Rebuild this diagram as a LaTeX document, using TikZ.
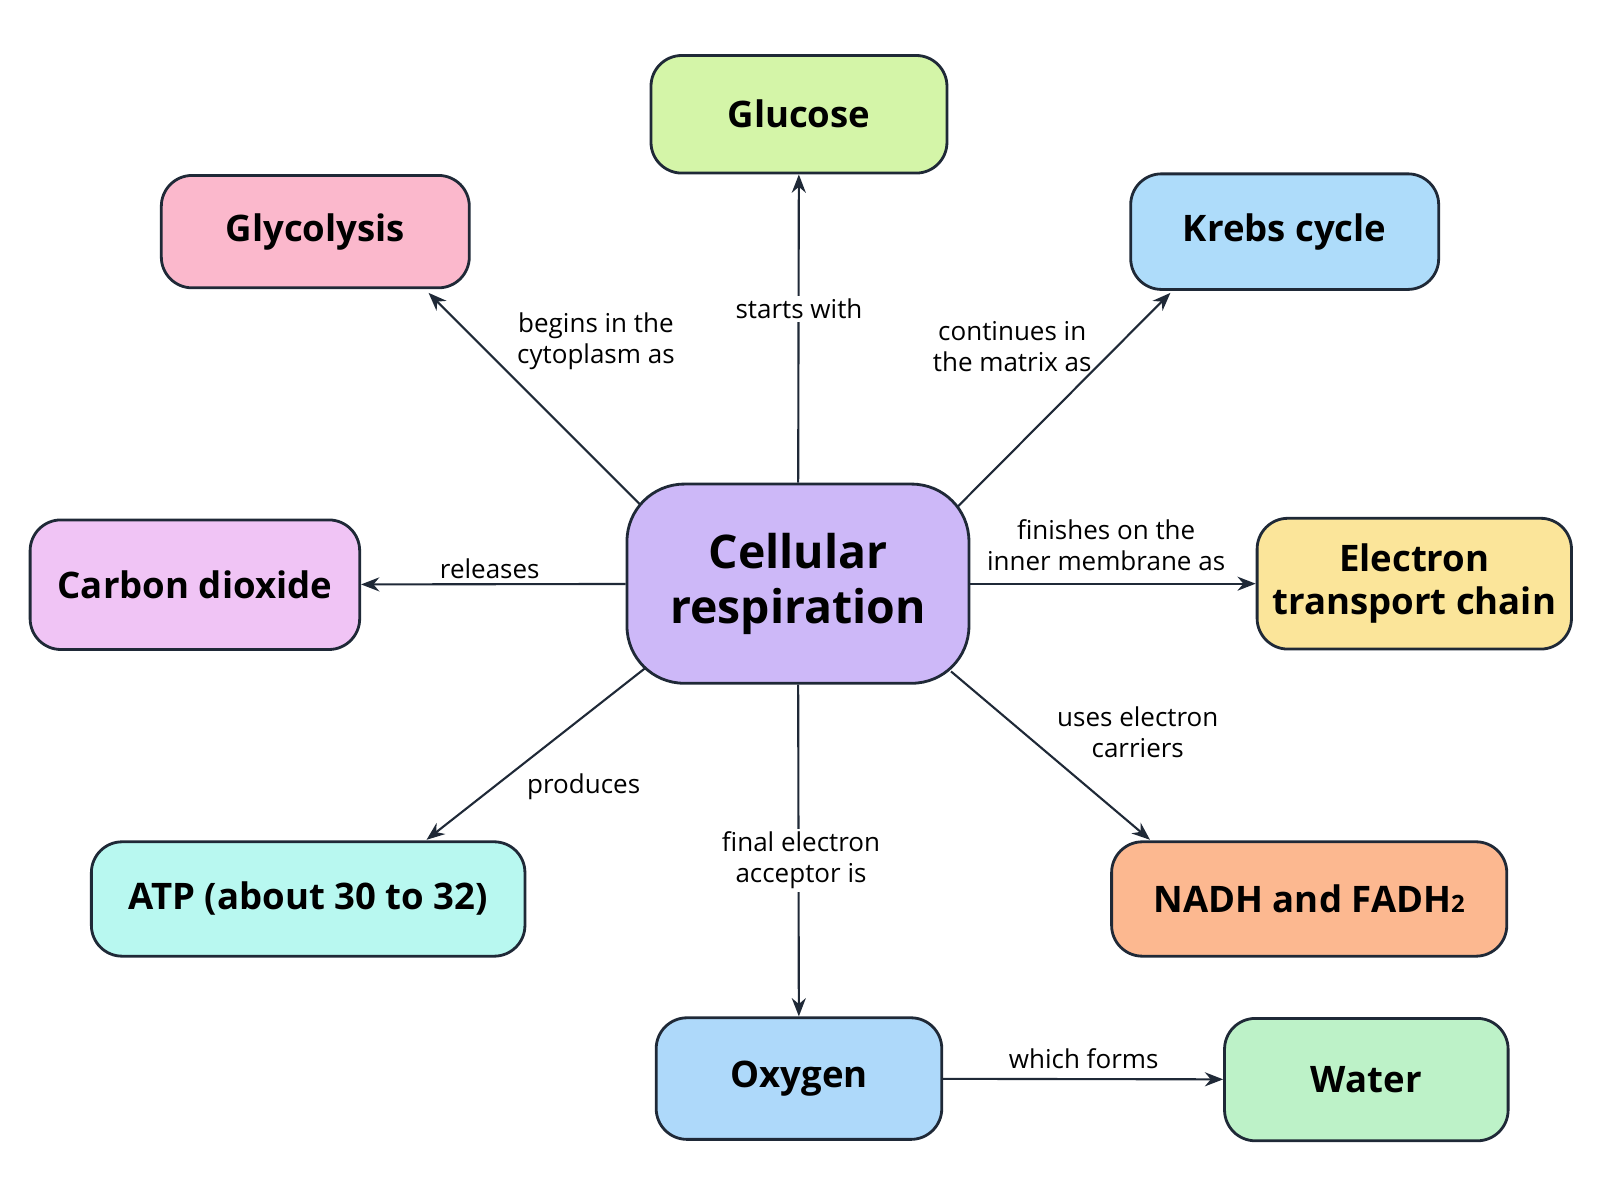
\documentclass[tikz,border=0pt]{standalone}
\usepackage{fontspec}
\setmainfont{Open Sans}
\usetikzlibrary{arrows.meta,positioning}
\definecolor{edgegray}{HTML}{1F2937}
\definecolor{cglucose}{HTML}{D4F5A8}
\definecolor{cglyco}{HTML}{FBB8CC}
\definecolor{ckrebs}{HTML}{AEDCFA}
\definecolor{cco}{HTML}{F0C4F5}
\definecolor{ccell}{HTML}{CDB8F8}
\definecolor{cetc}{HTML}{FBE59A}
\definecolor{catp}{HTML}{B8F8F0}
\definecolor{cnadh}{HTML}{FCB890}
\definecolor{coxy}{HTML}{AED9FA}
\definecolor{cwater}{HTML}{BDF2C8}
\tikzset{
  concept/.style={draw=edgegray, line width=2pt, rounded corners=0.77cm,
    align=center, font=\fontsize{26}{31}\selectfont\bfseries, text=black},
  link/.style={draw=edgegray, line width=1.5pt, -{Stealth[length=13pt,width=10pt]}},
  lbl/.style={align=center, font=\fontsize{18.5}{22}\selectfont, text=black, inner sep=2pt}
}
\begin{document}
\begin{tikzpicture}[x=0.02551cm,y=-0.02551cm]
  \useasboundingbox (0,0) rectangle (1568,1176);
  \node [concept, fill=ccell, minimum width=8.55cm, minimum height=4.98cm,
    rounded corners=1.43cm, font=\fontsize{33}{39}\selectfont\bfseries] (cell) at (782,572) {Cellular\\respiration};
  \node [concept, fill=cglucose, minimum width=7.4cm, minimum height=2.94cm] (glu) at (783,112) {Glucose};
  \node [concept, fill=cglyco, minimum width=7.7cm, minimum height=2.81cm] (gly) at (309,227) {Glycolysis};
  \node [concept, fill=ckrebs, minimum width=7.7cm, minimum height=2.89cm] (krebs) at (1259,227) {Krebs cycle};
  \node [concept, fill=cco, minimum width=8.24cm, minimum height=3.24cm] (co2) at (191,573) {Carbon dioxide};
  \node [concept, fill=cetc, minimum width=7.86cm, minimum height=3.27cm] (etc) at (1386,572) {Electron\\transport chain};
  \node [concept, fill=catp, minimum width=10.84cm, minimum height=2.86cm] (atp) at (302,881) {ATP (about 30 to 32)};
  \node [concept, fill=cnadh, minimum width=9.88cm, minimum height=2.86cm] (nadh) at (1283,881) {NADH and FADH{\fontsize{17}{17}\selectfont 2}};
  \node [concept, fill=coxy, minimum width=7.14cm, minimum height=3.04cm] (oxy) at (783,1057) {Oxygen};
  \node [concept, fill=cwater, minimum width=7.09cm, minimum height=3.06cm] (water) at (1339,1058) {Water};

  % corner points of the diagonal links
  \coordinate (cnw) at (628,495);
  \coordinate (cne) at (938,497);
  \coordinate (csw) at (632,655);
  \coordinate (cse) at (932,658);
  \coordinate (glyin) at (420,287);
  \coordinate (krebsin) at (1147,287);
  \coordinate (atpin) at (418,823);
  \coordinate (nadhin) at (1127,823);

  \draw [link] (cell) -- (glu);
  \draw [link] (cnw) -- (glyin);
  \draw [link] (cne) -- (krebsin);
  \draw [link] (cell) -- (co2);
  \draw [link] (cell) -- (etc);
  \draw [link] (csw) -- (atpin);
  \draw [link] (cse) -- (nadhin);
  \draw [link] (cell) -- (oxy);
  \draw [link] (oxy) -- (water);

  \node [lbl] (l1) at (584,334) {begins in the\\cytoplasm as};
  \node [lbl, fill=white] (l2) at (783,303) {starts with};
  \node [lbl] (l3) at (992,340) {continues in\\the matrix as};
  \node [lbl] (l4) at (480,557) {releases};
  \node [lbl] (l5) at (1084,534) {finishes on the\\inner membrane as};
  \node [lbl] (l6) at (1115,718) {uses electron\\carriers};
  \node [lbl] (l7) at (572,771) {produces};
  \node [lbl, fill=white] (l8) at (785,843) {final electron\\acceptor is};
  \node [lbl] (l9) at (1062,1037) {which forms};
\end{tikzpicture}
\end{document}
